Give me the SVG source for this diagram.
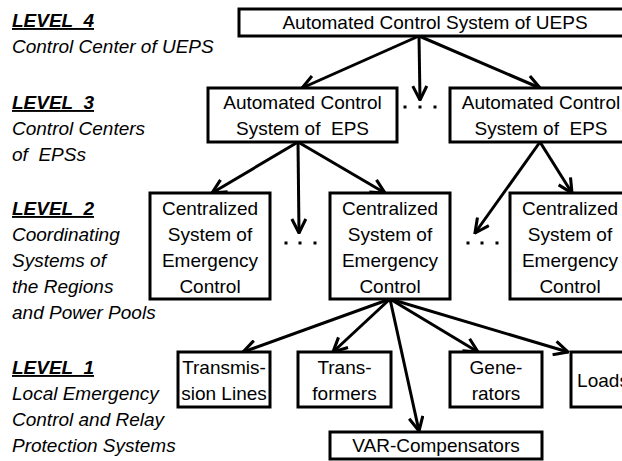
<svg xmlns="http://www.w3.org/2000/svg" width="622" height="461" viewBox="0 0 622 461">
<style>
text{font-family:"Liberation Sans",Arial,sans-serif;font-size:19px;fill:#000;white-space:pre}
.c{text-anchor:middle}
.lab{font-style:italic}
.lvl{font-style:italic;font-weight:bold;text-decoration:underline}
.box{fill:#fff;stroke:#000;stroke-width:3}
.con line{stroke:#000;stroke-width:3;marker-end:url(#ah)}
.dot{fill:#000}
</style>
<defs>
<marker id="ah" viewBox="0 0 12 12" refX="11" refY="6" markerWidth="5.6" markerHeight="5.6" markerUnits="strokeWidth" orient="auto">
<path d="M1,1 L11,6 L1,11" fill="none" stroke="#000" stroke-width="2.2"/>
</marker>
</defs>
<rect width="622" height="461" fill="#fff"/>
<g id="labels">
<text class="lvl" x="12" y="27">LEVEL  4</text>
<text class="lab" x="12" y="53">Control Center of UEPS</text>
<text class="lvl" x="12" y="109">LEVEL  3</text>
<text class="lab" x="12" y="135">Control Centers</text>
<text class="lab" x="12" y="161">of  EPSs</text>
<text class="lvl" x="12" y="215">LEVEL  2</text>
<text class="lab" x="12" y="241">Coordinating</text>
<text class="lab" x="12" y="267">Systems of</text>
<text class="lab" x="12" y="293">the Regions</text>
<text class="lab" x="12" y="319">and Power Pools</text>
<text class="lvl" x="12" y="374">LEVEL  1</text>
<text class="lab" x="12" y="400">Local Emergency</text>
<text class="lab" x="12" y="426">Control and Relay</text>
<text class="lab" x="12" y="452">Protection Systems</text>
</g>
<g id="connectors" class="con">
<line x1="419" y1="36" x2="302" y2="88"/>
<line x1="419" y1="36" x2="420" y2="100"/>
<line x1="419" y1="36" x2="540" y2="88"/>
<line x1="298" y1="142" x2="212" y2="193"/>
<line x1="298" y1="142" x2="299" y2="233"/>
<line x1="298" y1="142" x2="385" y2="193"/>
<line x1="540" y1="142" x2="475" y2="233"/>
<line x1="540" y1="142" x2="572" y2="193"/>
<line x1="390" y1="299" x2="243" y2="352"/>
<line x1="390" y1="299" x2="333" y2="352"/>
<line x1="390" y1="299" x2="419" y2="431"/>
<line x1="390" y1="299" x2="478" y2="352"/>
<line x1="390" y1="299" x2="568" y2="352"/>
</g>
<g id="dots">
<rect class="dot" x="403.5" y="105.5" width="3" height="3"/><rect class="dot" x="418.5" y="105.5" width="3" height="3"/><rect class="dot" x="433.5" y="105.5" width="3" height="3"/>
<rect class="dot" x="284.5" y="241.5" width="3" height="3"/><rect class="dot" x="298.5" y="241.5" width="3" height="3"/><rect class="dot" x="313.5" y="241.5" width="3" height="3"/>
<rect class="dot" x="466.5" y="241.5" width="3" height="3"/><rect class="dot" x="480.5" y="241.5" width="3" height="3"/><rect class="dot" x="495.5" y="241.5" width="3" height="3"/>
</g>
<g id="n-ueps">
<rect class="box" x="239" y="9" width="392" height="27"/>
<text class="c" x="435" y="29">Automated Control System of UEPS</text>
</g>
<g id="n-eps1">
<rect class="box" x="208" y="88" width="189" height="54"/>
<text class="c" x="302.5" y="109">Automated Control</text>
<text class="c" x="302.5" y="135">System of  EPS</text>
</g>
<g id="n-eps2">
<rect class="box" x="450" y="88" width="182" height="54"/>
<text class="c" x="541" y="109">Automated Control</text>
<text class="c" x="541" y="135">System of  EPS</text>
</g>
<g id="n-cs1">
<rect class="box" x="150" y="193" width="120" height="106"/>
<text class="c" x="210" y="215">Centralized</text>
<text class="c" x="210" y="241">System of</text>
<text class="c" x="210" y="267">Emergency</text>
<text class="c" x="210" y="293">Control</text>
</g>
<g id="n-cs2">
<rect class="box" x="330" y="193" width="120" height="106"/>
<text class="c" x="390" y="215">Centralized</text>
<text class="c" x="390" y="241">System of</text>
<text class="c" x="390" y="267">Emergency</text>
<text class="c" x="390" y="293">Control</text>
</g>
<g id="n-cs3">
<rect class="box" x="510" y="193" width="120" height="106"/>
<text class="c" x="570" y="215">Centralized</text>
<text class="c" x="570" y="241">System of</text>
<text class="c" x="570" y="267">Emergency</text>
<text class="c" x="570" y="293">Control</text>
</g>
<g id="n-lines">
<rect class="box" x="178" y="352" width="92" height="55"/>
<text class="c" x="224" y="374">Transmis-</text>
<text class="c" x="224" y="400">sion Lines</text>
</g>
<g id="n-trans">
<rect class="box" x="298" y="352" width="93" height="55"/>
<text class="c" x="344.5" y="374">Trans-</text>
<text class="c" x="344.5" y="400">formers</text>
</g>
<g id="n-gen">
<rect class="box" x="450" y="352" width="92" height="55"/>
<text class="c" x="496" y="374">Gene-</text>
<text class="c" x="496" y="400">rators</text>
</g>
<g id="n-loads">
<rect class="box" x="571" y="352" width="64" height="55"/>
<text class="c" x="603" y="387">Loads</text>
</g>
<g id="n-var">
<rect class="box" x="330" y="432" width="212" height="27"/>
<text class="c" x="436" y="452">VAR-Compensators</text>
</g>
</svg>
